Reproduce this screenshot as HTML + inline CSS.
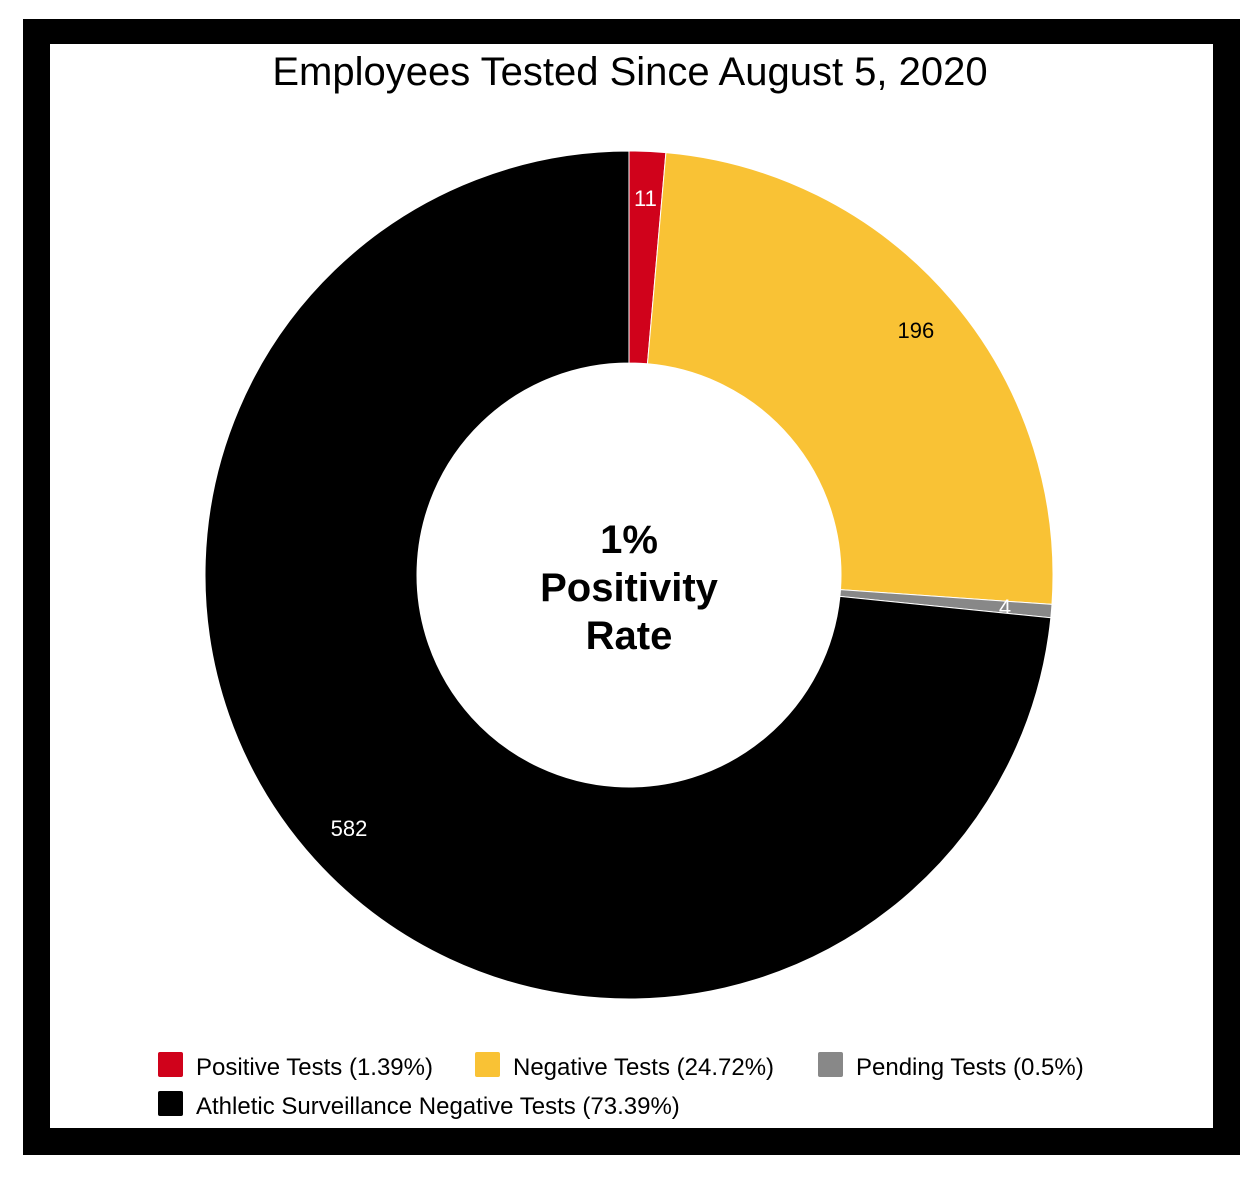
<!DOCTYPE html>
<html><head><meta charset="utf-8"><style>
body{margin:0;background:#fff;}
svg{display:block;font-family:"Liberation Sans",sans-serif;}
</style></head><body>
<svg width="1260" height="1177">
<rect x="23" y="19" width="1217" height="1136" fill="#000"/>
<rect x="50" y="44" width="1163" height="1084" fill="#fff"/>
<text x="630" y="85" text-anchor="middle" font-size="40" fill="#000">Employees Tested Since August 5, 2020</text>
<g id="donut"></g>
<g font-weight="bold" font-size="40" text-anchor="middle" fill="#000">
<text x="629" y="553">1%</text>
<text x="629" y="601">Positivity</text>
<text x="629" y="649">Rate</text>
</g>
<g id="legend"></g>
</svg>
<script>
const categories=["Positive Tests","Negative Tests","Pending Tests","Athletic Surveillance Negative Tests"];
const values=[11,196,4,582];
const percents=["1.39%","24.72%","0.5%","73.39%"];
const colors=["#d0021b","#f9c235","#888888","#000000"];
const labelColors=["#fff","#000","#fff","#fff"];
const NS="http://www.w3.org/2000/svg";
const cx=629,cy=575,R=424,r=212;
const total=values.reduce((a,b)=>a+b,0);
const g=document.getElementById('donut');
function pt(a,rad){return [cx+rad*Math.sin(a),cy-rad*Math.cos(a)];}
let acc=0;
values.forEach((v,i)=>{
  const a0=acc/total*2*Math.PI; acc+=v; const a1=acc/total*2*Math.PI;
  const large=(a1-a0)>Math.PI?1:0;
  const [x0,y0]=pt(a0,R),[x1,y1]=pt(a1,R),[x2,y2]=pt(a1,r),[x3,y3]=pt(a0,r);
  const p=document.createElementNS(NS,'path');
  p.setAttribute('d',`M${x0},${y0}A${R},${R} 0 ${large} 1 ${x1},${y1}L${x2},${y2}A${r},${r} 0 ${large} 0 ${x3},${y3}Z`);
  p.setAttribute('fill',colors[i]);
  p.setAttribute('stroke','#fff');p.setAttribute('stroke-width','1');
  
  
  g.appendChild(p);
  const am=(a0+a1)/2; const [lx,ly]=pt(am,R*0.89);
  const t=document.createElementNS(NS,'text');
  t.setAttribute('x',lx);t.setAttribute('y',ly+8);t.setAttribute('text-anchor','middle');
  t.setAttribute('font-size','22');t.setAttribute('fill',labelColors[i]);
  t.textContent=v;
  
  
  g.appendChild(t);
});
const lg=document.getElementById('legend');
const lpos=[[158,1052],[475,1052],[818,1052],[158,1091]];
categories.forEach((c,i)=>{
  const e=document.createElementNS(NS,'g');
  
  
  const s=document.createElementNS(NS,'rect');
  s.setAttribute('x',lpos[i][0]);s.setAttribute('y',lpos[i][1]);s.setAttribute('width',25);s.setAttribute('height',25);s.setAttribute('rx',2);
  s.setAttribute('fill',colors[i]);
  
  
  const t=document.createElementNS(NS,'text');
  t.setAttribute('x',lpos[i][0]+38);t.setAttribute('y',lpos[i][1]+23);t.setAttribute('font-size','24');
  t.textContent=c+' ('+percents[i]+')';
  
  
  e.appendChild(s);e.appendChild(t);lg.appendChild(e);
});
</script>
</body></html>
